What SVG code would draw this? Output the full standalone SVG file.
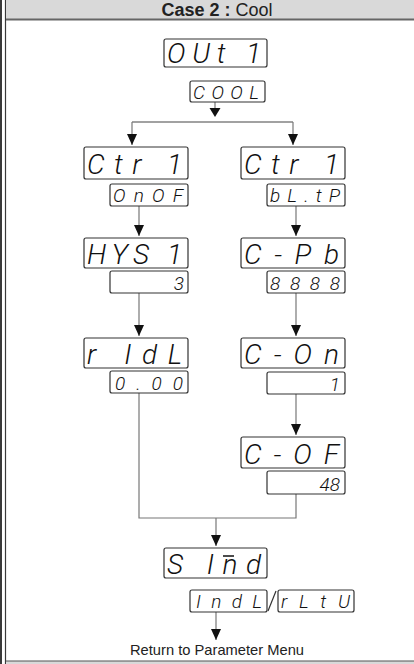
<svg xmlns="http://www.w3.org/2000/svg" width="414" height="664" viewBox="0 0 414 664">
<style>
.frame{stroke:#3a3a3a;fill:none}
.box{fill:#fff;stroke:#333;stroke-width:1.2}
.big{font-family:Roboto,"DejaVu Sans",sans-serif;font-style:italic;font-weight:300;font-size:28px;fill:#111}
.small{font-family:Roboto,"DejaVu Sans",sans-serif;font-style:italic;font-weight:300;font-size:19px;fill:#111}
.line{stroke:#777;stroke-width:1.2;fill:none}
.hline{stroke:#444;stroke-width:1.2;fill:none}
.hdr{font-family:"Liberation Sans",Arial,sans-serif;font-size:18px;fill:#222}
.note{font-family:"Liberation Sans",Arial,sans-serif;font-size:15px;fill:#222}
</style>
<defs>
<marker id="ah" markerWidth="12" markerHeight="10" refX="11" refY="5" orient="auto" markerUnits="userSpaceOnUse">
<path d="M0,0 L11,5 L0,10 Z" fill="#111"/>
</marker>
</defs>
<line class="frame" x1="1" y1="0" x2="1" y2="664" stroke-width="2"/>
<line class="frame" x1="5.5" y1="0" x2="5.5" y2="664" stroke-width="1.2"/>
<g id="header">
<rect x="6" y="0" width="408" height="19" fill="#d9d9d9"/>
<line x1="6" y1="19.5" x2="414" y2="19.5" stroke="#666" stroke-width="2"/>
<text class="hdr" x="217" y="16" text-anchor="middle"><tspan font-weight="bold">Case 2 : </tspan>Cool</text>
</g>
<g id="connectors">
<path class="line" d="M215,101 V110"/>
<path class="hline" d="M132,122 H293"/>
<path class="line" d="M132,122 V145" marker-end="url(#ah)"/>
<path class="line" d="M293,122 V145" marker-end="url(#ah)"/>
<path class="line" d="M139,206 V236" marker-end="url(#ah)"/>
<path class="line" d="M139,293 V336" marker-end="url(#ah)"/>
<path class="line" d="M296,206 V236" marker-end="url(#ah)"/>
<path class="line" d="M296,293 V336" marker-end="url(#ah)"/>
<path class="line" d="M296,394 V435" marker-end="url(#ah)"/>
<path class="line" d="M139,393 V518 H296 V494"/>
<path class="line" d="M216,518 V546" marker-end="url(#ah)"/>
<path class="line" d="M216,612 V640" marker-end="url(#ah)"/>
<path d="M209.5,108 L220.5,108 L215,117 Z" fill="#111"/>
</g>
<g id="n-out1">
<rect class="box" x="164" y="39" width="103" height="28" rx="2"/>
<text class="big" x="167" y="63" textLength="94" lengthAdjust="spacing">OUt 1</text>
<rect class="box" x="190" y="81" width="75" height="21" rx="2"/>
<text class="small" x="193" y="99" textLength="66" lengthAdjust="spacing">COOL</text>
</g>
<g id="n-ctr1-left">
<rect class="box" x="84" y="147" width="104" height="32" rx="2"/>
<text class="big" x="87" y="174" textLength="95" lengthAdjust="spacing">Ctr 1</text>
<rect class="box" x="110" y="184" width="78" height="22" rx="2"/>
<text class="small" x="113" y="202" textLength="70" lengthAdjust="spacing">OnOF</text>
</g>
<g id="n-hys1">
<rect class="box" x="84" y="238" width="104" height="30" rx="2"/>
<text class="big" x="87" y="264" textLength="95" lengthAdjust="spacing">HYS 1</text>
<rect class="box" x="110" y="271" width="78" height="22" rx="2"/>
<text class="small" x="184" y="290" text-anchor="end">3</text>
</g>
<g id="n-ridl">
<rect class="box" x="84" y="338" width="104" height="30" rx="2"/>
<text class="big" x="87" y="364" textLength="95" lengthAdjust="spacing">r IdL</text>
<rect class="box" x="110" y="371" width="78" height="22" rx="2"/>
<text class="small" x="115" y="390" textLength="68" lengthAdjust="spacing">0.00</text>
</g>
<g id="n-ctr1-right">
<rect class="box" x="241" y="147" width="104" height="32" rx="2"/>
<text class="big" x="244" y="174" textLength="95" lengthAdjust="spacing">Ctr 1</text>
<rect class="box" x="267" y="184" width="78" height="22" rx="2"/>
<text class="small" x="270" y="202" textLength="70" lengthAdjust="spacing">bL.tP</text>
</g>
<g id="n-cpb">
<rect class="box" x="241" y="238" width="104" height="30" rx="2"/>
<text class="big" x="244" y="264" textLength="95" lengthAdjust="spacing">C-Pb</text>
<rect class="box" x="267" y="271" width="78" height="22" rx="2"/>
<text class="small" x="270" y="290" textLength="70" lengthAdjust="spacing">8888</text>
</g>
<g id="n-con">
<rect class="box" x="241" y="338" width="104" height="30" rx="2"/>
<text class="big" x="244" y="364" textLength="95" lengthAdjust="spacing">C-On</text>
<rect class="box" x="267" y="372" width="78" height="22" rx="2"/>
<text class="small" x="340" y="391" text-anchor="end">1</text>
</g>
<g id="n-cof">
<rect class="box" x="241" y="437" width="104" height="31" rx="2"/>
<text class="big" x="244" y="464" textLength="95" lengthAdjust="spacing">C-OF</text>
<rect class="box" x="267" y="471" width="78" height="23" rx="2"/>
<text class="small" x="340" y="491" text-anchor="end">48</text>
</g>
<g id="n-sind">
<rect class="box" x="164" y="548" width="103" height="30" rx="2"/>
<text class="big" x="167" y="574" textLength="94" lengthAdjust="spacing">S Ind</text>
<line x1="223" y1="556" x2="234" y2="556" stroke="#111" stroke-width="1.5"/>
<rect class="box" x="190" y="590" width="77" height="22" rx="2"/>
<text class="small" x="196" y="608" textLength="66" lengthAdjust="spacing">IndL</text>
<line x1="268" y1="611" x2="276" y2="591" stroke="#333" stroke-width="1.2"/>
<rect class="box" x="278" y="590" width="76" height="22" rx="2"/>
<text class="small" x="281" y="608" textLength="69" lengthAdjust="spacing">rLtU</text>
</g>
<g id="footer">
<text class="note" x="217" y="655" text-anchor="middle" textLength="174" lengthAdjust="spacingAndGlyphs">Return to Parameter Menu</text>
<rect x="6" y="661" width="408" height="3" fill="#d9d9d9"/>
<line x1="6" y1="661" x2="414" y2="661" stroke="#555" stroke-width="1.2"/>
</g>
</svg>
